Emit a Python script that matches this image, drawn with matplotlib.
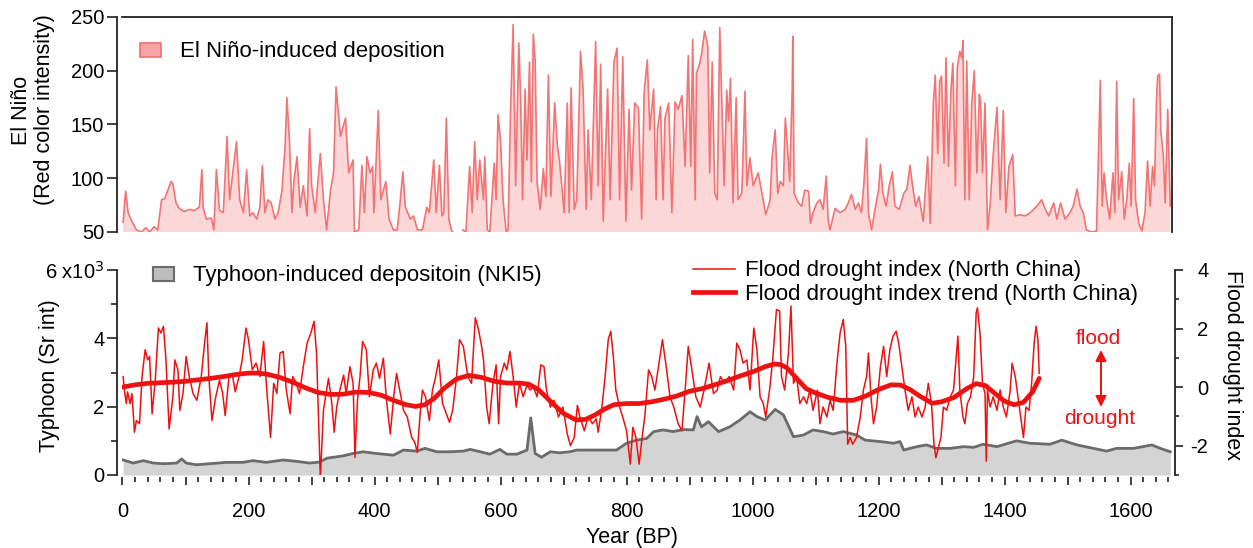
import numpy as np
import matplotlib
matplotlib.use('Agg')
import matplotlib.pyplot as plt
from matplotlib.patches import Patch
from matplotlib.lines import Line2D
from matplotlib.ticker import MultipleLocator, FuncFormatter

plt.rcParams['font.family'] = ['Liberation Sans', 'DejaVu Sans']
plt.rcParams['axes.unicode_minus'] = False

# ---- data ----
# El Nino-induced deposition (red colour intensity), year BP
nino_year = [1, 5, 9, 14, 22, 30, 37, 43, 50, 56, 62, 67, 72, 77, 80, 85, 90, 98, 106, 114,
             122, 126, 128, 133, 141, 145, 149, 154, 160, 166, 170, 175, 181, 186, 192, 197, 202, 207, 213, 218,
             222, 226, 231, 236, 242, 247, 253, 258, 261, 265, 269, 272, 277, 282, 287, 293, 297, 300, 306, 314,
             319, 324, 330, 335, 339, 346, 354, 359, 366, 368, 375, 380, 384, 388, 393, 397, 399, 406, 410, 418,
             423, 430, 436, 441, 445, 449, 457, 462, 468, 476, 483, 487, 494, 498, 503, 507, 510, 514, 518, 522,
             524, 530, 540, 545, 551, 555, 559, 563, 567, 573, 575, 579, 583, 590, 593, 596, 600, 604, 609, 612,
             616, 620, 624, 629, 632, 635, 639, 642, 646, 649, 652, 655, 658, 663, 668, 672, 676, 680, 686, 690,
             694, 701, 706, 709, 712, 717, 721, 727, 731, 736, 739, 744, 751, 755, 759, 763, 770, 774, 780, 785,
             789, 794, 799, 804, 808, 813, 819, 824, 828, 833, 837, 843, 847, 849, 854, 858, 861, 867, 872, 877,
             882, 888, 893, 898, 902, 905, 909, 911, 916, 919, 924, 929, 932, 936, 940, 944, 948, 951, 955, 959,
             962, 965, 969, 974, 977, 983, 988, 991, 996, 1001, 1009, 1015, 1021, 1028, 1031, 1036, 1040, 1044, 1049, 1052,
             1055, 1059, 1063, 1064, 1066, 1073, 1078, 1083, 1089, 1092, 1096, 1102, 1107, 1112, 1117, 1120, 1123, 1131, 1139, 1147,
             1152, 1157, 1163, 1168, 1173, 1177, 1181, 1184, 1189, 1195, 1200, 1203, 1207, 1212, 1217, 1222, 1226, 1233, 1240, 1245,
             1250, 1254, 1259, 1264, 1271, 1278, 1282, 1287, 1290, 1294, 1297, 1300, 1304, 1307, 1311, 1315, 1318, 1322, 1325, 1329,
             1332, 1334, 1337, 1340, 1344, 1348, 1352, 1356, 1360, 1362, 1365, 1369, 1373, 1377, 1382, 1388, 1393, 1398, 1402, 1407,
             1413, 1417, 1425, 1433, 1441, 1451, 1459, 1464, 1470, 1478, 1483, 1489, 1496, 1504, 1509, 1515, 1520, 1525, 1530, 1538,
             1546, 1552, 1555, 1558, 1562, 1567, 1572, 1575, 1578, 1581, 1586, 1590, 1594, 1598, 1601, 1605, 1608, 1613, 1618, 1623,
             1627, 1631, 1635, 1638, 1641, 1643, 1646, 1648, 1652, 1655, 1659, 1663]
nino_val = [59, 88, 68, 61, 52, 50, 54, 50, 55, 52, 80, 81, 89, 97, 95, 77, 72, 69, 71, 70,
            73, 108, 73, 62, 63, 52, 108, 70, 68, 139, 80, 105, 134, 80, 68, 108, 65, 68, 62, 73,
            112, 68, 80, 77, 62, 68, 88, 129, 175, 135, 68, 97, 120, 73, 93, 65, 146, 94, 68, 123,
            80, 52, 88, 105, 185, 139, 156, 105, 117, 50, 52, 112, 68, 120, 105, 111, 68, 163, 80, 97,
            62, 52, 52, 80, 106, 73, 62, 65, 52, 52, 73, 68, 117, 68, 112, 65, 68, 156, 62, 52,
            50, np.nan, 52, 50, 111, 68, 134, 80, 117, 80, 120, 52, 50, 114, 80, 159, 135, 80, 50, 52,
            164, 243, 93, 226, 173, 80, 183, 117, 208, 97, 234, 210, 97, 71, 109, 83, 196, 83, 170, 132,
            114, 68, 170, 68, 184, 71, 80, 218, 183, 71, 145, 80, 227, 93, 206, 60, 183, 80, 208, 221,
            80, 213, 60, 164, 89, 170, 165, 62, 180, 210, 145, 183, 80, 144, 167, 80, 156, 170, 68, 171,
            164, 177, 111, 214, 111, 229, 80, 198, 206, 215, 237, 223, 105, 208, 86, 80, 240, 177, 93, 182,
            153, 193, 77, 175, 80, 86, 181, 93, 119, 93, 105, 86, 66, 80, 119, 145, 86, 97, 93, 156,
            133, 97, 183, 232, 86, 77, 74, 89, 88, 58, 68, 77, 80, 71, 102, 62, 52, 72, 68, 71,
            77, 85, 71, 77, 68, 97, 137, 68, 52, 73, 89, 113, 86, 74, 93, 106, 74, 71, 86, 90,
            112, 93, 74, 83, 60, 120, 58, 170, 196, 123, 190, 195, 114, 212, 111, 183, 207, 93, 203, 218,
            212, 228, 80, 209, 80, 170, 200, 105, 178, 171, 105, 170, 52, 74, 122, 166, 80, 163, 68, 111,
            122, 65, 66, 65, 68, 74, 80, 72, 65, 77, 62, 77, 62, 68, 74, 90, 74, 68, 52, 50,
            51, 191, 74, 105, 80, 62, 105, 68, 190, 80, 106, 62, 80, 114, 74, 174, 80, 58, 51, 68,
            116, 74, 111, 93, 170, 195, 197, 144, 122, 77, 164, 74]

# Typhoon-induced deposition (Sr intensity, x10^3)
typh_year = [1, 17, 33, 49, 65, 86, 94, 101, 117, 138, 165, 191, 207, 228, 255, 276, 297, 313, 324, 350,
             366, 382, 403, 430, 446, 467, 480, 499, 520, 541, 552, 568, 583, 599, 610, 626, 642, 648, 655, 665,
             679, 694, 710, 721, 742, 763, 784, 800, 816, 832, 843, 858, 874, 890, 906, 912, 919, 930, 946, 964,
             980, 996, 1007, 1020, 1036, 1049, 1065, 1081, 1096, 1112, 1128, 1144, 1165, 1179, 1202, 1224, 1234, 1240, 1250, 1261,
             1276, 1292, 1314, 1335, 1351, 1366, 1388, 1419, 1440, 1472, 1491, 1515, 1541, 1562, 1578, 1605, 1634, 1647, 1663]
typh_val = [0.44, 0.35, 0.42, 0.35, 0.33, 0.35, 0.47, 0.35, 0.30, 0.33, 0.37, 0.37, 0.42, 0.37, 0.44, 0.40, 0.35, 0.38, 0.49, 0.56,
            0.63, 0.68, 0.63, 0.58, 0.73, 0.70, 0.78, 0.68, 0.68, 0.70, 0.75, 0.68, 0.61, 0.75, 0.61, 0.61, 0.73, 1.67, 0.63, 0.52,
            0.68, 0.65, 0.68, 0.73, 0.73, 0.73, 0.73, 0.93, 1.02, 1.07, 1.27, 1.32, 1.27, 1.33, 1.32, 1.71, 1.41, 1.56, 1.27, 1.41,
            1.61, 1.85, 1.71, 1.61, 1.92, 1.76, 1.12, 1.17, 1.32, 1.27, 1.20, 1.27, 1.17, 1.02, 0.98, 0.93, 0.98, 0.73, 0.78, 0.83,
            0.88, 0.78, 0.78, 0.83, 0.81, 0.90, 0.83, 1.00, 0.93, 0.90, 1.02, 0.88, 0.78, 0.70, 0.78, 0.78, 0.88, 0.78, 0.68]

# Flood drought index (North China)
fdi_year = [1, 3, 6, 8, 12, 15, 19, 22, 27, 31, 36, 40, 43, 47, 52, 57, 61, 65, 69, 74,
            80, 83, 88, 91, 96, 101, 106, 112, 118, 125, 130, 134, 137, 142, 148, 154, 159, 163, 169, 174,
            179, 185, 190, 196, 200, 206, 212, 218, 224, 229, 235, 240, 245, 250, 255, 260, 266, 270, 275, 281,
            287, 293, 299, 304, 308, 312, 314, 319, 323, 327, 332, 336, 340, 345, 351, 355, 361, 366, 369, 373,
            377, 381, 387, 392, 398, 403, 408, 414, 419, 425, 431, 435, 440, 446, 452, 459, 464, 468, 472, 476,
            481, 487, 492, 497, 502, 508, 514, 519, 524, 530, 535, 541, 548, 554, 560, 565, 570, 573, 578, 582,
            588, 593, 597, 600, 606, 610, 615, 620, 625, 630, 636, 642, 647, 652, 658, 664, 669, 673, 679, 685,
            692, 699, 706, 711, 717, 722, 726, 733, 739, 746, 752, 755, 761, 766, 771, 775, 779, 783, 789, 794,
            800, 806, 810, 815, 820, 826, 829, 835, 840, 845, 850, 857, 863, 869, 875, 882, 888, 893, 898, 903,
            910, 917, 923, 931, 938, 944, 949, 956, 963, 970, 975, 980, 985, 991, 996, 1002, 1007, 1012, 1017, 1021,
            1027, 1032, 1038, 1043, 1046, 1051, 1057, 1061, 1065, 1070, 1075, 1081, 1086, 1091, 1096, 1103, 1107, 1112, 1118, 1123,
            1128, 1134, 1139, 1144, 1148, 1151, 1155, 1159, 1165, 1171, 1176, 1181, 1184, 1188, 1192, 1197, 1203, 1208, 1213, 1218,
            1223, 1228, 1232, 1237, 1242, 1247, 1253, 1258, 1263, 1269, 1274, 1279, 1284, 1288, 1291, 1295, 1299, 1303, 1308, 1314,
            1319, 1323, 1326, 1329, 1334, 1337, 1341, 1346, 1351, 1355, 1357, 1361, 1365, 1369, 1371, 1373, 1377, 1382, 1388, 1393,
            1398, 1403, 1409, 1412, 1417, 1422, 1427, 1430, 1434, 1439, 1443, 1447, 1450, 1453, 1455]
fdi_val = [0.36, -0.10, -0.56, -0.16, -0.56, -0.22, -1.54, -1.14, -1.25, 0.36, 1.28, 0.93, 1.05, -0.91, 0.24, 2.02, 1.85, 2.08, 0.93, -1.43,
           -0.33, 0.93, 0.59, -0.79, -0.22, 1.05, 0.36, -0.22, -0.45, 0.36, 1.45, 2.20, 0.36, -1.14, -0.33, 0.24, -0.22, -0.97, 0.36, 0.47,
           -0.16, 0.36, 0.93, 2.02, 1.62, 0.59, 0.82, 0.36, 1.56, -0.10, -1.72, 0.13, -0.22, 1.16, 1.22, -0.10, -0.91, 0.36, 0.18, -0.22,
           0.70, 1.50, 1.85, 2.25, 1.16, -1.72, -3.10, -0.79, -0.22, 0.30, -0.51, -1.54, -0.68, -0.10, 0.41, -0.22, 0.70, 0.13, -2.40, -0.45,
           0.36, 1.56, 1.28, -0.33, 0.59, 0.82, 0.30, 0.99, -0.45, -1.60, -0.22, 0.47, -0.10, -0.79, -1.02, -1.72, -1.89, -2.23, -1.02, -0.10,
           -0.33, -1.14, -0.10, 0.36, 0.93, -0.56, -0.91, -1.20, -0.79, 0.30, 1.62, 1.39, 0.36, 0.13, 2.37, 1.97, 1.39, 0.93, -0.68, -1.25,
           0.13, 0.76, -1.25, 0.36, 0.82, 0.59, 1.22, 0.36, -0.68, 0.13, -0.33, 0.07, -0.10, 0.01, -0.33, 0.76, 0.70, -0.10, -0.68, -0.45,
           -1.02, -0.68, -1.60, -2.00, -1.72, -0.62, -1.02, -1.49, -1.02, -1.25, -1.08, -1.54, -0.68, 0.36, 1.62, 1.91, 1.05, -0.10, -0.68, -1.02,
           -1.49, -2.63, -1.37, -1.72, -2.63, -1.49, -1.02, 0.59, 0.36, -0.10, 0.59, 1.62, 0.70, -0.33, -0.68, -1.25, -1.49, -0.10, 1.39, 0.70,
           -0.33, -0.68, -0.10, 0.82, -0.22, -0.10, 0.36, 0.13, 0.36, -0.10, 1.50, 1.28, 0.82, 0.93, -0.10, 2.02, 1.28, -0.33, -0.56, -1.02,
           -0.10, 0.93, 2.65, 2.60, 0.36, -0.10, 1.16, 2.77, 0.13, 0.36, -0.56, -0.33, -0.56, -0.10, -0.79, -0.10, -1.25, -0.68, -1.02, -0.45,
           -0.79, 0.82, 1.85, 2.31, 1.39, -1.95, -1.72, -1.95, -1.72, -1.02, -0.10, 0.36, 1.16, -0.33, -1.25, -0.68, 0.70, 1.39, 0.36, 1.28,
           1.74, 1.91, 1.50, 0.70, -0.10, -0.79, -0.33, -1.02, -0.68, -1.02, -0.68, 0.13, -0.56, -1.95, -2.41, -2.07, -1.72, -0.68, -0.79, -0.33,
           -0.10, 0.93, 1.74, -0.10, -1.02, -1.25, -0.56, -0.33, 0.36, 2.54, 2.71, 1.85, 0.13, -0.22, -2.53, -0.10, -0.68, -0.33, -0.79, -0.10,
           -0.68, -1.02, -0.10, 0.82, 0.36, -0.45, -1.25, -1.72, -0.68, -0.79, 0.13, 1.50, 2.08, 1.62, 0.47]

# Flood drought index trend (North China)
trend_year = [0, 20, 40, 60, 80, 100, 120, 140, 160, 180, 200, 215, 230, 250, 270, 290, 310, 330, 350, 370,
              390, 410, 430, 450, 465, 480, 495, 510, 530, 550, 570, 590, 610, 630, 645, 660, 680, 700, 720, 735,
              750, 765, 780, 800, 820, 840, 860, 880, 900, 920, 940, 960, 980, 1000, 1020, 1035, 1045, 1055, 1070, 1085,
              1100, 1120, 1140, 1160, 1180, 1200, 1220, 1235, 1250, 1265, 1285, 1300, 1320, 1340, 1355, 1370, 1385, 1400, 1415, 1430,
              1445, 1455]
trend_val = [0.00, 0.08, 0.13, 0.15, 0.17, 0.20, 0.25, 0.30, 0.36, 0.43, 0.48, 0.48, 0.44, 0.33, 0.17, -0.02, -0.18, -0.25, -0.24, -0.17,
             -0.18, -0.27, -0.45, -0.60, -0.66, -0.60, -0.38, -0.05, 0.28, 0.40, 0.33, 0.20, 0.14, 0.14, 0.10, -0.08, -0.50, -0.90, -1.12, -1.10,
             -0.95, -0.75, -0.60, -0.56, -0.56, -0.50, -0.41, -0.30, -0.14, -0.05, 0.08, 0.22, 0.38, 0.52, 0.70, 0.79, 0.77, 0.65, 0.30, -0.05,
             -0.20, -0.35, -0.45, -0.45, -0.30, -0.08, 0.08, 0.07, -0.08, -0.30, -0.55, -0.50, -0.35, -0.05, 0.12, 0.05, -0.22, -0.48, -0.60, -0.52,
             -0.15, 0.30]

# ---- styling ----
W, H = 1253, 548
RED = '#ee1111'
PINK_LINE = '#f27474'
PINK_FILL = '#fcd7d7'
GREY_LINE = '#6b6b6b'
GREY_FILL = '#d4d4d4'
PX = 72 / 100  # points per pixel at dpi 100


def fx(px):
    return px / W


def fy(py):
    return 1 - py / H


fig = plt.figure(figsize=(W / 100, H / 100), dpi=100)

x0, x1 = 122.5, 1171.5
ax_top = fig.add_axes([fx(x0), fy(232), fx(x1) - fx(x0), fy(17) - fy(232)])
ax_bot = fig.add_axes([fx(x0), fy(475), fx(x1) - fx(x0), fy(270) - fy(475)])
ax_fdi = ax_bot.twinx()

# ---- top panel: El Nino ----
ax_top.fill_between(nino_year, 50, nino_val, color=PINK_FILL, lw=0)
ax_top.plot(nino_year, nino_val, color=PINK_LINE, lw=1.2)
ax_top.set_xlim(0, 1665)
ax_top.set_ylim(50, 250)
ax_top.set_yticks([50, 100, 150, 200, 250])
ax_top.spines['bottom'].set_visible(False)
ax_top.spines['left'].set_position(('outward', 5 * PX))
for s in ax_top.spines.values():
    s.set_linewidth(1.3)
    s.set_color('#222222')
ax_top.tick_params(axis='x', bottom=False, labelbottom=False)
ax_top.tick_params(axis='y', direction='out', length=7, width=1.2, pad=2.5,
                   labelsize=14.5, color='#222222')
fig.text(fx(33), fy(110), 'El Niño\n(Red color intensity)', rotation=90,
         ha='center', va='center', multialignment='center', fontsize=15.5, linespacing=1.1)

ax_top.legend(handles=[Patch(facecolor='#f8a3a3', edgecolor='#ee7070', lw=1.2,
                             label='El Niño-induced deposition')],
              loc='center left', bbox_to_anchor=(fx(140), fy(52)),
              bbox_transform=fig.transFigure, frameon=False, fontsize=16,
              borderpad=0, borderaxespad=0, handlelength=0.95, handleheight=0.6,
              handletextpad=0.85)

# ---- bottom panel: typhoon + flood drought index ----
ax_bot.fill_between(typh_year, 0, typh_val, color=GREY_FILL, lw=0)
ax_bot.plot(typh_year, typh_val, color=GREY_LINE, lw=2)
ax_bot.set_xlim(0, 1665)
ax_bot.set_ylim(0, 6)
ax_bot.yaxis.set_major_locator(MultipleLocator(2))
ax_bot.yaxis.set_minor_locator(MultipleLocator(1))
ax_bot.yaxis.set_major_formatter(FuncFormatter(
    lambda v, p: '6 x10$^{3}$' if v == 6 else f'{int(v)}'))
ax_bot.xaxis.set_major_locator(MultipleLocator(100))
ax_bot.xaxis.set_minor_locator(MultipleLocator(20))
ax_bot.xaxis.set_major_formatter(FuncFormatter(
    lambda v, p: f'{int(v)}' if int(round(v)) % 200 == 0 else ''))
for side in ['top', 'right']:
    ax_bot.spines[side].set_visible(False)
ax_bot.spines['bottom'].set_visible(False)
ax_bot.spines['bottom'].set_position(('outward', 2 * PX))
ax_bot.spines['left'].set_position(('outward', 5 * PX))
ax_bot.spines['left'].set_linewidth(1.3)
ax_bot.spines['left'].set_color('#222222')
ax_bot.tick_params(axis='y', which='major', direction='out', length=7, width=1.2, pad=2.5,
                   labelsize=14.5, color='#222222')
ax_bot.tick_params(axis='y', which='minor', direction='out', length=4, width=1.2, color='#222222')
ax_bot.tick_params(axis='x', which='major', direction='out', length=6, width=1.2, pad=12,
                   labelsize=14.5, color='#222222')
ax_bot.tick_params(axis='x', which='minor', direction='out', length=3.5, width=1.2, color='#222222')
ax_bot.set_xlabel('Year (BP)', fontsize=15.5)
ax_bot.xaxis.set_label_coords(fx(632), fy(537), transform=fig.transFigure)
ax_bot.xaxis.label.set_va('center')
fig.text(fx(50), fy(376), 'Typhoon (Sr int)', rotation=90, ha='center', va='center', fontsize=15.5)

ax_fdi.plot(fdi_year, fdi_val, color=RED, lw=1.1)
ax_fdi.plot(trend_year, trend_val, color=RED, lw=3.4, solid_capstyle='round',
            solid_joinstyle='round')
ax_fdi.set_ylim(-3, 4)
ax_fdi.yaxis.set_major_locator(MultipleLocator(2))
ax_fdi.yaxis.set_minor_locator(MultipleLocator(1))
for side in ['top', 'left', 'bottom']:
    ax_fdi.spines[side].set_visible(False)
ax_fdi.spines['right'].set_position(('outward', 3.5 * PX))
ax_fdi.spines['right'].set_linewidth(1.3)
ax_fdi.spines['right'].set_color('#222222')
ax_fdi.tick_params(axis='y', which='major', direction='out', length=6, width=1.2, pad=18,
                   labelsize=14.5, color='#222222')
ax_fdi.tick_params(axis='y', which='minor', direction='out', length=3, width=1.2, color='#222222')
for lab in ax_fdi.get_yticklabels():
    lab.set_ha('right')
fig.text(fx(1233), fy(365), 'Flood drought index', rotation=270, ha='center', va='center',
         fontsize=15.5)

ax_bot.legend(handles=[Patch(facecolor='#bdbdbd', edgecolor=GREY_LINE, lw=1.5,
                             label='Typhoon-induced depositoin (NKI5)')],
              loc='center left', bbox_to_anchor=(fx(153), fy(276)),
              bbox_transform=fig.transFigure, frameon=False, fontsize=16,
              borderpad=0, borderaxespad=0, handlelength=0.95, handleheight=0.6,
              handletextpad=0.85)
ax_fdi.legend(handles=[Line2D([], [], color=RED, lw=1.1, label='Flood drought index (North China)'),
                       Line2D([], [], color=RED, lw=3.4, label='Flood drought index trend (North China)')],
              loc='center left', bbox_to_anchor=(fx(693), fy(282.5)),
              bbox_transform=fig.transFigure, frameon=False, fontsize=16,
              borderpad=0, borderaxespad=0, handlelength=1.9, handletextpad=0.45,
              labelspacing=0.1)

fig.text(fx(1098), fy(338), 'flood', color=RED, ha='center', va='center', fontsize=15)
fig.text(fx(1100), fy(419), 'drought', color=RED, ha='center', va='center', fontsize=15)
ax_fdi.annotate('', xy=(fx(1101), fy(350)), xytext=(fx(1101), fy(407)),
                xycoords='figure fraction', textcoords='figure fraction',
                arrowprops=dict(arrowstyle='<|-|>', color=RED, lw=1.4, mutation_scale=16,
                                shrinkA=0, shrinkB=0))

fig.savefig('out.png', dpi=100)
